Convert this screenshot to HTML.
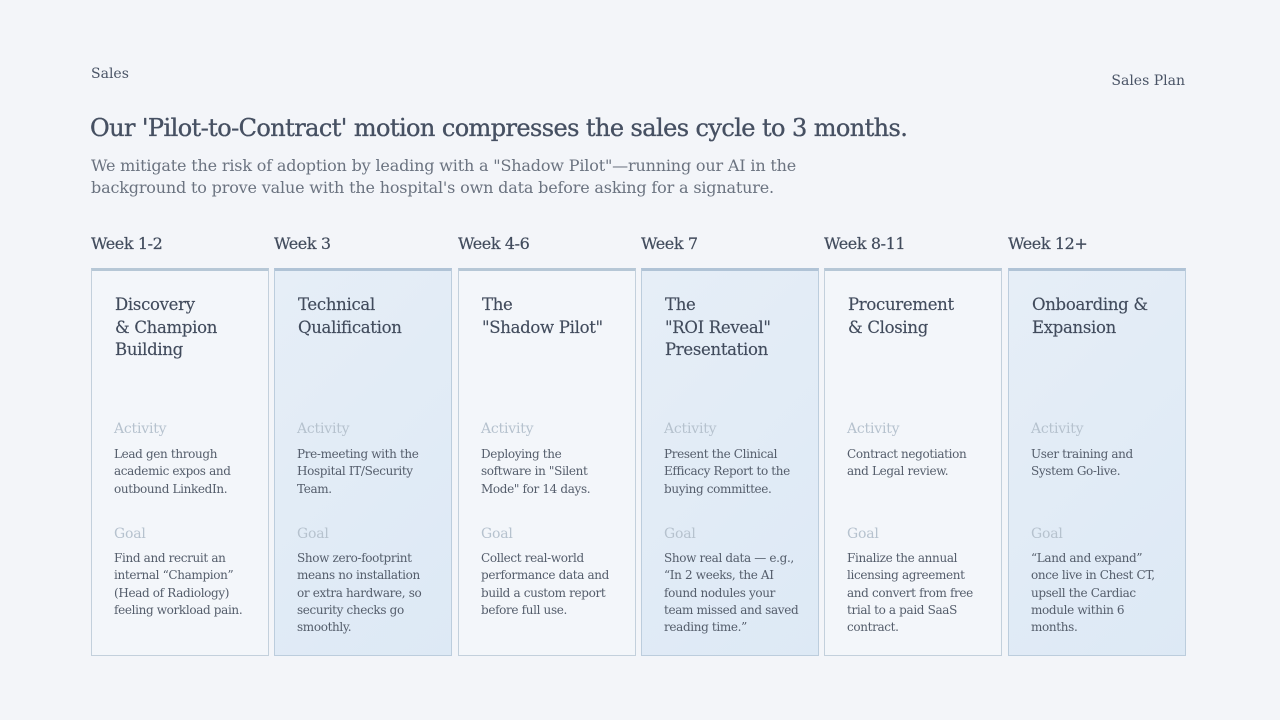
<!DOCTYPE html>
<html><head><meta charset="utf-8">
<style>
*{margin:0;padding:0;box-sizing:border-box}
body{width:1280px;height:720px;background:#f3f5f9;font-family:"DejaVu Serif","Liberation Serif",serif;color:#4a5466;position:relative;overflow:hidden}
.a{position:absolute;white-space:nowrap}
.card{position:absolute;top:268px;width:178px;height:388px;border:1.5px solid #c3d0dc;border-top:3px solid #b6c7d6;background:#f3f6fa}
.card.alt{background:linear-gradient(135deg,#e6eef7,#dde9f5);border-color:#bccddd;border-top-color:#b0c3d6}
.wk{position:absolute;top:234px;font-size:16px;color:#414b5c;letter-spacing:-0.4px;-webkit-text-stroke:0.2px #414b5c}
.t{position:absolute;left:23px;top:23px;font-size:16.5px;line-height:22.5px;color:#414b5c;letter-spacing:-0.3px;white-space:nowrap;-webkit-text-stroke:0.15px #414b5c}
.lab{position:absolute;left:22px;font-size:14px;color:#b6c2ce;letter-spacing:-0.2px}
.tx{position:absolute;left:22px;font-size:12px;line-height:17.3px;color:#545d6b;letter-spacing:-0.35px;white-space:nowrap}
</style></head><body>
<div class="a" style="left:91px;top:66px;font-size:14px;color:#4a5466">Sales</div>
<div class="a" style="right:95px;top:73px;font-size:14px;color:#4a5466">Sales Plan</div>
<div class="a" style="left:90px;top:114px;font-size:24px;color:#465062;letter-spacing:-0.58px;-webkit-text-stroke:0.35px #465062">Our 'Pilot-to-Contract' motion compresses the sales cycle to 3 months.</div>
<div class="a" style="left:91px;top:155px;font-size:16px;line-height:22px;color:#6b7380;letter-spacing:-0.17px">We mitigate the risk of adoption by leading with a "Shadow Pilot"—running our AI in the<br>background to prove value with the hospital's own data before asking for a signature.</div>

<div class="wk" style="left:91px">Week 1-2</div>
<div class="wk" style="left:274px">Week 3</div>
<div class="wk" style="left:458px">Week 4-6</div>
<div class="wk" style="left:641px">Week 7</div>
<div class="wk" style="left:824px">Week 8-11</div>
<div class="wk" style="left:1008px">Week 12+</div>

<div class="card" style="left:91px">
<div class="t">Discovery<br>&amp; Champion<br>Building</div>
<div class="lab" style="top:150px">Activity</div>
<div class="tx" style="top:175px">Lead gen through<br>academic expos and<br>outbound LinkedIn.</div>
<div class="lab" style="top:255px">Goal</div>
<div class="tx" style="top:279px">Find and recruit an<br>internal “Champion”<br>(Head of Radiology)<br>feeling workload pain.</div>
</div>
<div class="card alt" style="left:274px">
<div class="t">Technical<br>Qualification</div>
<div class="lab" style="top:150px">Activity</div>
<div class="tx" style="top:175px">Pre-meeting with the<br>Hospital IT/Security<br>Team.</div>
<div class="lab" style="top:255px">Goal</div>
<div class="tx" style="top:279px">Show zero-footprint<br>means no installation<br>or extra hardware, so<br>security checks go<br>smoothly.</div>
</div>
<div class="card" style="left:458px">
<div class="t">The<br>"Shadow Pilot"</div>
<div class="lab" style="top:150px">Activity</div>
<div class="tx" style="top:175px">Deploying the<br>software in "Silent<br>Mode" for 14 days.</div>
<div class="lab" style="top:255px">Goal</div>
<div class="tx" style="top:279px">Collect real-world<br>performance data and<br>build a custom report<br>before full use.</div>
</div>
<div class="card alt" style="left:641px">
<div class="t">The<br>"ROI Reveal"<br>Presentation</div>
<div class="lab" style="top:150px">Activity</div>
<div class="tx" style="top:175px">Present the Clinical<br>Efficacy Report to the<br>buying committee.</div>
<div class="lab" style="top:255px">Goal</div>
<div class="tx" style="top:279px">Show real data — e.g.,<br>“In 2 weeks, the AI<br>found nodules your<br>team missed and saved<br>reading time.”</div>
</div>
<div class="card" style="left:824px">
<div class="t">Procurement<br>&amp; Closing</div>
<div class="lab" style="top:150px">Activity</div>
<div class="tx" style="top:175px">Contract negotiation<br>and Legal review.</div>
<div class="lab" style="top:255px">Goal</div>
<div class="tx" style="top:279px">Finalize the annual<br>licensing agreement<br>and convert from free<br>trial to a paid SaaS<br>contract.</div>
</div>
<div class="card alt" style="left:1008px">
<div class="t">Onboarding &amp;<br>Expansion</div>
<div class="lab" style="top:150px">Activity</div>
<div class="tx" style="top:175px">User training and<br>System Go-live.</div>
<div class="lab" style="top:255px">Goal</div>
<div class="tx" style="top:279px">“Land and expand”<br>once live in Chest CT,<br>upsell the Cardiac<br>module within 6<br>months.</div>
</div>
</body></html>
